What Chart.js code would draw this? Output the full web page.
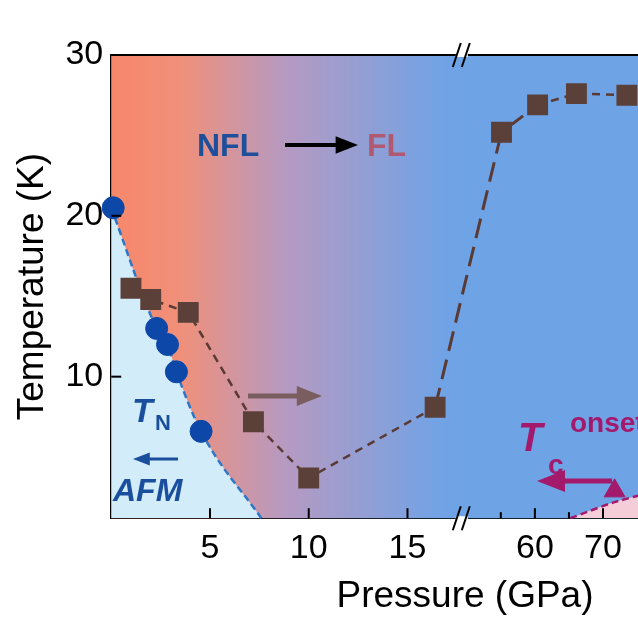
<!DOCTYPE html>
<html><head><meta charset="utf-8">
<script src="https://cdn.jsdelivr.net/npm/chart.js@4"></script>
<style>html,body{margin:0;padding:0;background:#fff;overflow:hidden}#outer{width:638px;height:638px;overflow:hidden;position:relative}#wrap{width:660px;height:638px;position:absolute;left:0;top:0}</style>
</head><body><div id="outer"><div id="wrap"><canvas id="c"></canvas></div></div>
<script>
// data (pressure GPa, temperature K)
const flP = [1, 2, 3.9, 7.2, 10, 16.4, 55.1, 60.4, 66.1, 73.5];
const flT = [15.5, 14.8, 14.0, 7.2, 3.7, 8.1, 25.2, 26.9, 27.6, 27.5];
const tnP = [0.1, 2.3, 2.85, 3.3, 4.55];
const tnT = [20.5, 13.0, 12.0, 10.3, 6.6];
const tnLineP = [0, 2.3, 2.85, 3.3, 4.55, 7.6];
const tnLineT = [20.5, 13.0, 12.0, 10.3, 6.6, 1.2];
const tcP = [71.7];
const tcT = [2.9];
const tcLineP = [65.2, 71.7, 78];
const tcLineT = [1.2, 2.2, 2.9];
const xTickLabels = [5, 10, 15, 60, 70];
const yTickLabels = [10, 20, 30];
// broken axis transform
function u(p){ return p <= 18 ? p : 21.45 + (p - 60) * 0.345; }
const pts = (P,T) => P.map((p,i)=>({x:u(p), y:T[i]}));

const bg = {
  id:'bg',
  beforeDatasetsDraw(ch){
    const {ctx, chartArea:a} = ch;
    const g = ctx.createLinearGradient(a.left,0,a.left+350,0);
    g.addColorStop(0,'#f7876a'); g.addColorStop(0.2,'#f0907a');
    g.addColorStop(0.5,'#b59ac2'); g.addColorStop(0.95,'#70a3e6'); g.addColorStop(1,'#6ea3e6');
    ctx.save(); ctx.fillStyle=g; ctx.fillRect(a.left,a.top,a.right-a.left,a.bottom-a.top); ctx.restore();
  },
  afterDraw(ch){
    const {ctx, chartArea:a, scales:{x,y}} = ch;
    ctx.save();
    ctx.strokeStyle='#000'; ctx.lineWidth=2;
    ctx.beginPath(); ctx.moveTo(a.left,a.top); ctx.lineTo(a.right,a.top); ctx.stroke();
    xTickLabels.forEach(p=>{const px=x.getPixelForValue(u(p)); ctx.beginPath(); ctx.moveTo(px,a.bottom); ctx.lineTo(px,a.bottom-10); ctx.stroke();});
    [55,65].forEach(p=>{const px=x.getPixelForValue(u(p)); ctx.beginPath(); ctx.moveTo(px,a.bottom); ctx.lineTo(px,a.bottom-6); ctx.stroke();});
    yTickLabels.forEach(t=>{const py=y.getPixelForValue(t); ctx.beginPath(); ctx.moveTo(a.left,py); ctx.lineTo(a.left+10,py); ctx.stroke();});
    const bx = x.getPixelForValue(17.75);
    [a.top,a.bottom].forEach(by=>{
      ctx.fillStyle='#fff'; ctx.fillRect(bx-6,by-2,12,4);
      ctx.strokeStyle='#000'; ctx.lineWidth=2;
      [-5,4].forEach(d=>{ctx.beginPath(); ctx.moveTo(bx+d-4,by+12); ctx.lineTo(bx+d+4,by-12); ctx.stroke();});
    });
    ctx.fillStyle='#000'; ctx.font='37px "Liberation Sans", Arial, sans-serif'; ctx.textAlign='center'; ctx.textBaseline='middle';
    ctx.fillText('Pressure (GPa)',465,597);
    ctx.textAlign='left';
    ctx.font='bold 32px "Liberation Sans", Arial, sans-serif';
    ctx.fillStyle='#1d4f9a'; ctx.fillText('NFL',197,147);
    arrow(ctx,285,145,358,145,'#000',4,16);
    ctx.fillStyle='#b05a72'; ctx.fillText('FL',367,147);
    arrow(ctx,248,396,322,396,'#7a5d5e',5,18);
    ctx.fillStyle='#1a4f9e'; ctx.font='italic bold 34px "Liberation Sans", Arial, sans-serif';
    ctx.fillText('T',132,413); ctx.font='bold 22px "Liberation Sans", Arial, sans-serif'; ctx.fillText('N',155,424);
    arrow(ctx,178,459,133,459,'#1a4f9e',3,12);
    ctx.font='italic bold 32px "Liberation Sans", Arial, sans-serif'; ctx.fillText('AFM',113,492);
    ctx.fillStyle='#a3196c'; ctx.font='italic bold 40px "Liberation Sans", Arial, sans-serif';
    ctx.fillText('T',518,440); ctx.font='bold 28px "Liberation Sans", Arial, sans-serif';
    ctx.fillText('c',548,466); ctx.fillText('onset',570,424);
    arrow(ctx,612,481,537,481,'#a3196c',5,20);
    ctx.restore();
  }
};
function arrow(ctx,x1,y1,x2,y2,c,w,h){
  const dir = Math.sign(x2-x1);
  ctx.strokeStyle=c; ctx.fillStyle=c; ctx.lineWidth=w;
  ctx.beginPath(); ctx.moveTo(x1,y1); ctx.lineTo(x2-dir*h,y2); ctx.stroke();
  ctx.beginPath(); ctx.moveTo(x2,y2); ctx.lineTo(x2-dir*h*1.4,y2-h*0.55); ctx.lineTo(x2-dir*h*1.4,y2+h*0.55); ctx.closePath(); ctx.fill();
}

new Chart(document.getElementById('c'),{
  type:'scatter',
  data:{datasets:[
    {order:10, data:pts(tnLineP,tnLineT), showLine:true, borderColor:'#2f76c6', borderDash:[7,4], borderWidth:2.5, pointRadius:0, tension:0.4, cubicInterpolationMode:'monotone', fill:'start', backgroundColor:'#d3ecfa'},
    {order:10, data:pts(tcLineP,tcLineT), showLine:true, borderColor:'#a3196c', borderDash:[7,4], borderWidth:2.5, pointRadius:0, tension:0.3, fill:'start', backgroundColor:'#f4cdd8'},
    {order:1, data:pts(flP,flT), showLine:true, borderColor:'#5a3a34', borderDash:[8,6], borderWidth:2.5,
      segment:{borderDash:c=>(c.p0DataIndex===5||c.p0DataIndex===6)?[20,9]:[8,6], borderWidth:c=>(c.p0DataIndex===5||c.p0DataIndex===6)?3:2.5},
      pointStyle:'rect', pointRadius:13, pointBackgroundColor:'#5b4039', pointBorderColor:'#5b4039'},
    {order:0, data:pts(tnP,tnT), showLine:false, pointRadius:11, pointBackgroundColor:'#0d47a8', pointBorderColor:'#0d47a8'},
    {order:0, data:pts(tcP,tcT), showLine:false, pointStyle:'triangle', pointRadius:12, pointBackgroundColor:'#a3196c', pointBorderColor:'#a3196c'}
  ]},
  plugins:[bg],
  options:{
    animation:false, responsive:true, maintainAspectRatio:false, clip:false,
    layout:{padding:{top:55,right:0,left:7,bottom:59}},
    plugins:{legend:{display:false},tooltip:{enabled:false}},
    scales:{
      x:{type:'linear', min:0, max:27.0,
        afterBuildTicks(s){ s.ticks = xTickLabels.map(p=>({value:u(p)})); },
        ticks:{font:{size:34,family:'"Liberation Sans", Arial'}, color:'#000', padding:10,
          callback:(v)=>{const i=xTickLabels.findIndex(p=>Math.abs(u(p)-v)<1e-6); return i>=0?String(xTickLabels[i]):'';}},
        grid:{display:false, drawTicks:false}, border:{color:'#000', width:2}},
      y:{min:1.2, max:30,
        afterBuildTicks(s){ s.ticks = yTickLabels.map(v=>({value:v})); },
        ticks:{font:{size:34,family:'"Liberation Sans", Arial'}, color:'#000', padding:8},
        grid:{display:false, drawTicks:false}, border:{color:'#000', width:2},
        title:{display:true, text:'Temperature (K)', font:{size:37,family:'"Liberation Sans", Arial'}, color:'#000', padding:{bottom:2}}}
    }
  }
});
</script></body></html>
